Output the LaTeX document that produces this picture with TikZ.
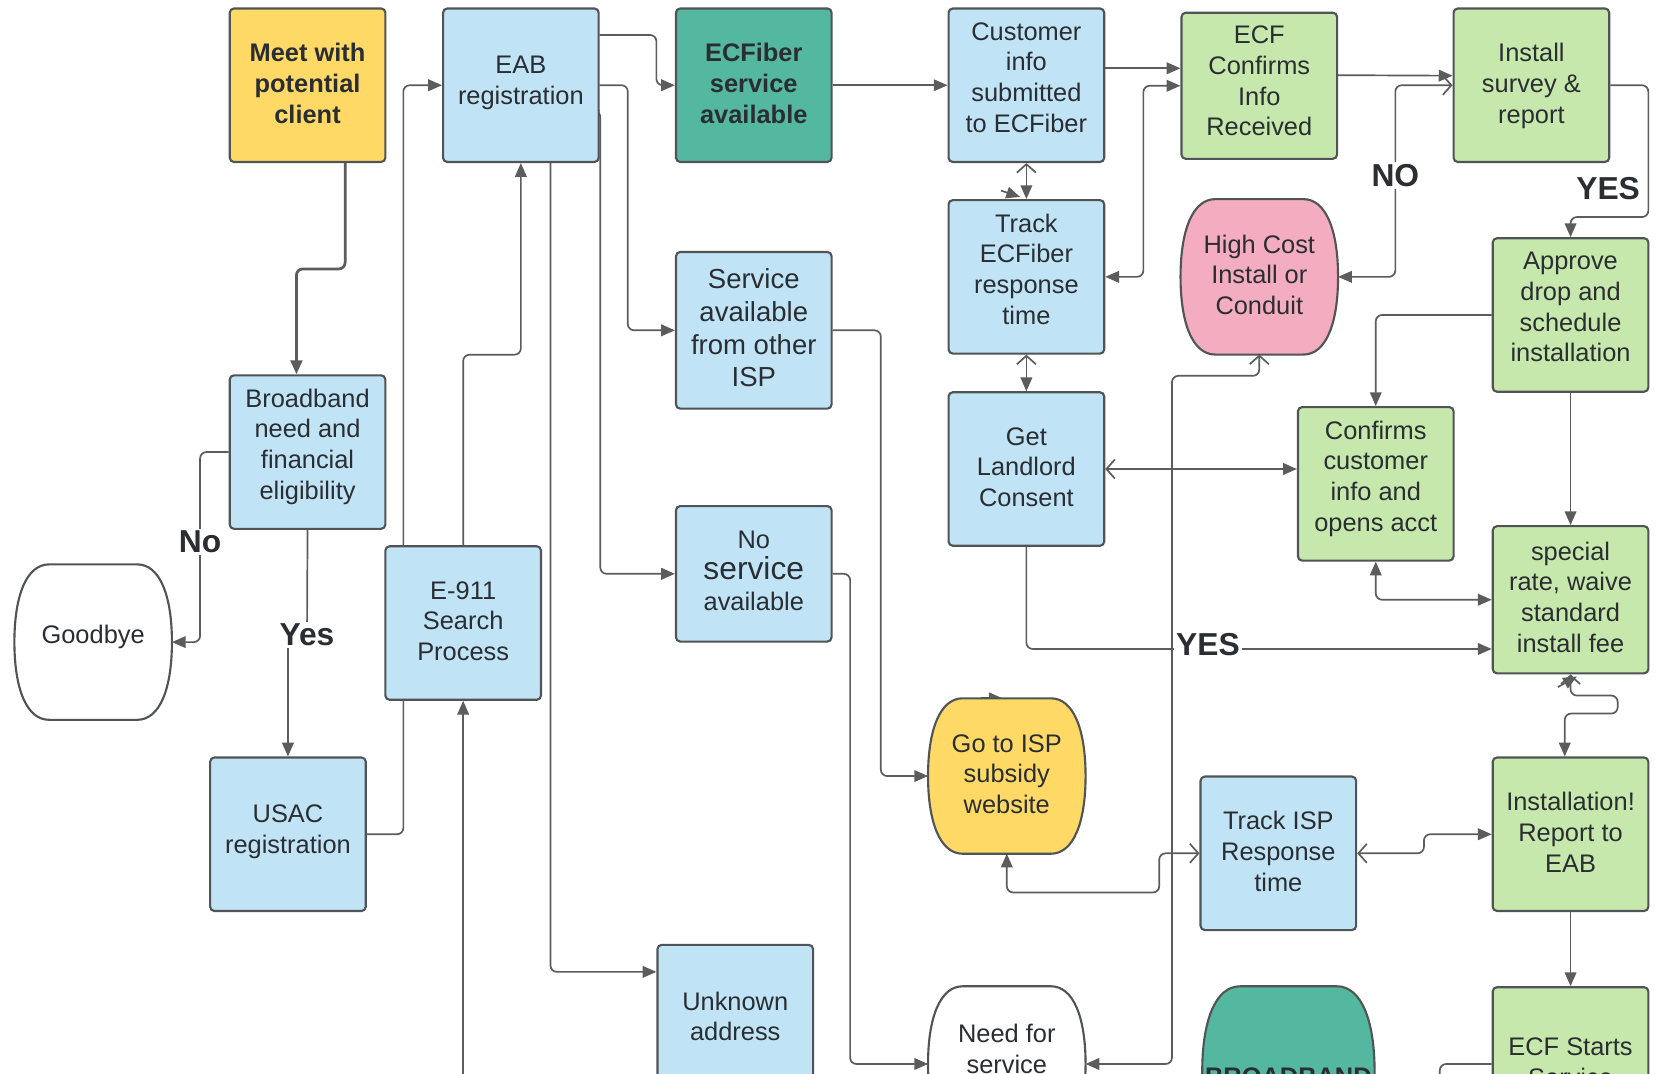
\documentclass[tikz,border=0pt]{standalone}
\usepackage{fontspec}
\setmainfont{Liberation Sans}
\usetikzlibrary{arrows.meta,calc}
\definecolor{bluef}{RGB}{192,228,246}
\definecolor{greenf}{RGB}{199,232,172}
\definecolor{tealf}{RGB}{84,183,160}
\definecolor{yellowf}{RGB}{255,217,102}
\definecolor{pinkf}{RGB}{243,172,192}
\definecolor{bord}{RGB}{80,84,86}
\definecolor{lnc}{RGB}{92,92,92}
\definecolor{txt}{RGB}{42,46,50}
\pgfdeclarelayer{bg}
\pgfdeclarelayer{edges}
\pgfdeclarelayer{shapes}
\pgfsetlayers{bg,edges,shapes,main}
\newcommand\barrel[2]{%
\path[draw=bord, line width=1pt, fill=#2] let \p1=(#1.north west), \p2=(#1.south east), \n1={0.22*(\x2-\x1)}, \n2={\y2-\y1} in
 (\x1+\n1,\y1) -- (\x2-\n1,\y1)
 .. controls (\x2-0.35*\n1,\y1) and (\x2,\y1+0.2*\n2) .. (\x2,\y1+0.5*\n2)
 .. controls (\x2,\y1+0.8*\n2) and (\x2-0.35*\n1,\y2) .. (\x2-\n1,\y2)
 -- (\x1+\n1,\y2)
 .. controls (\x1+0.35*\n1,\y2) and (\x1,\y1+0.8*\n2) .. (\x1,\y1+0.5*\n2)
 .. controls (\x1,\y1+0.2*\n2) and (\x1+0.35*\n1,\y1) .. cycle;}
\tikzset{
 fa/.tip={Triangle[length=6.5pt,width=5.5pt]},
 oa/.tip={Straight Barb[length=4pt,width=9pt]},
 box/.style={rectangle, rounded corners=2pt, draw=bord, line width=1pt, align=center, inner sep=1pt, text=txt, font=\fontsize{12}{14.5}\selectfont, minimum width=73.5pt, minimum height=72.5pt, text depth=7.5pt},
 bluebox/.style={box, fill=bluef},
 greenbox/.style={box, fill=greenf},
 bnode/.style={align=center, inner sep=1pt, text=txt, font=\fontsize{12}{14.5}\selectfont, minimum width=74pt, minimum height=73pt, text depth=7.5pt},
 tthree/.style={text depth=2pt},
 ttwo/.style={text depth=5pt},
 conn/.style={draw=lnc, line width=0.8pt, rounded corners=3pt},
 lbl/.style={font=\bfseries\fontsize{15}{15}\selectfont, text=txt, fill=white, inner sep=1pt},
}
\begin{document}
\begin{tikzpicture}[x=0.5pt,y=-0.5pt]
\useasboundingbox (0,0) rectangle (1568,1014);
\clip (0,0) rectangle (1568,1014);
\begin{pgfonlayer}{bg}
\fill[white] (0,0) rectangle (1568,1014);
\end{pgfonlayer}
% nodes
\node[box, tthree, fill=yellowf, font=\bfseries\fontsize{12}{14.5}\selectfont] (meet) at (290.5,80.5) {Meet with\\potential\\client};
\node[bluebox, ttwo] (eab) at (492,80.5) {EAB\\registration};
\node[box, tthree, fill=tealf, font=\bfseries\fontsize{12}{14.5}\selectfont] (ecf) at (712,80.5) {ECFiber\\service\\available};
\node[bluebox] (cust) at (969.5,80.5) {Customer\\info\\submitted\\to ECFiber};
\node[greenbox, minimum height=69pt, text depth=4.5pt] (conf) at (1189.5,81) {ECF\\Confirms\\Info\\Received};
\node[greenbox, tthree] (survey) at (1446.5,80.5) {Install\\survey \&\\report};
\node[bluebox] (track) at (969.5,261.5) {Track\\ECFiber\\response\\time};
\node[bnode, tthree] (high) at (1189.5,261.5) {High Cost\\Install or\\Conduit};
\node[greenbox] (approve) at (1483.5,297.5) {Approve\\drop and\\schedule\\installation};
\node[bluebox, minimum height=74pt, text depth=2.5pt, font=\fontsize{13}{15.5}\selectfont] (other) at (712,312) {Service\\available\\from other\\ISP};
\node[bluebox] (bb) at (290.5,427) {Broadband\\need and\\financial\\eligibility};
\node[bluebox, tthree] (landlord) at (969.5,443) {Get\\Landlord\\Consent};
\node[greenbox] (opens) at (1299.5,457) {Confirms\\customer\\info and\\opens acct};
\node[bluebox, minimum height=64pt, text depth=3pt] (noserv) at (712,542) {No\\{\fontsize{15}{15}\selectfont service}\\available};
\node[greenbox, minimum height=69.5pt, text depth=2.5pt] (special) at (1483.5,566.5) {special\\rate, waive\\standard\\install fee};
\node[bluebox, tthree] (e911) at (437.5,588.5) {E-911\\Search\\Process};
\node[bnode] (goodbye) at (88,606.5) {Goodbye};
\node[bnode, tthree] (goisp) at (951,733) {Go to ISP\\subsidy\\website};
\node[bluebox, ttwo] (usac) at (272,788) {USAC\\registration};
\node[bluebox, tthree] (trackisp) at (1207.5,806) {Track ISP\\Response\\time};
\node[greenbox, tthree] (install) at (1483.5,788) {Installation!\\Report to\\EAB};
\node[bluebox, ttwo] (unknown) at (694.5,965) {Unknown\\address};
\node[bnode, text depth=14.5pt] (need) at (951,1005) {Need for\\service};
\node[bnode, minimum width=81pt, minimum height=80pt, text height=13pt, text depth=0pt, font=\bfseries\fontsize{12}{14.5}\selectfont] (broad) at (1217,1012) {BROADBAND};
\node[greenbox, text depth=1.5pt] (starts) at (1483.5,1005) {ECF Starts\\Service};
% labels
\node[lbl] (lno) at (189,512) {No};
\node[lbl] (lyes) at (290,600) {Yes};
\node[lbl] (lNO) at (1318,166) {NO};
\node[lbl] (lYES) at (1519,178) {YES};
\node[lbl] (lYES2) at (1141,609) {YES};
\coordinate (fbot) at (437.5,1100);
\coordinate (sbot) at (1360,1100);
\begin{pgfonlayer}{shapes}
\barrel{high}{pinkf}
\barrel{goodbye}{white}
\barrel{goisp}{yellowf}
\barrel{need}{white}
\barrel{broad}{tealf}
\end{pgfonlayer}
\begin{pgfonlayer}{edges}
\draw[conn, line width=1.3pt, -fa] ([xshift=17.75pt]meet.south) -- ++(0,100) -| ([xshift=-5.25pt]bb.north);
\draw[conn, -fa] (bb.west) -- (189,427) -- (189,606.5) -- (goodbye.east);
\draw[conn, -fa] (bb.south) -- (290,600) -- (272,600) -- (usac.north);
\draw[conn, -fa] (usac.east) -- (381,788) -- (381,80.5) -- (eab.west);
\draw[conn, -fa] (e911.north) -- (437.5,335) -- (492,335) -- (eab.south);
\draw[conn, -fa] (fbot) -- (e911.south);
\draw[conn, -fa] ([xshift=14pt]eab.south) -- (520,918) -- ([yshift=23.5pt]unknown.west);
\draw[conn, -fa] ([yshift=23.75pt]eab.east) -- (620,33) -- (620,80.5) -- (ecf.west);
\draw[conn, -fa] (eab.east) -- (593,80.5) -- (593,312) -- (other.west);
\draw[conn, -fa] ([yshift=-12pt]eab.east) -- (567,104.5) -- (567,542) -- (noserv.west);
\draw[conn, -fa] (ecf.east) -- (cust.west);
\draw[conn, -fa] ([yshift=8pt]cust.east) -- ([yshift=8.25pt]conf.west);
\draw[conn, fa-fa] (conf.west) -- (1080,81) -- (1080,261.5) -- (track.east);
\draw[conn, -fa] ([yshift=5pt]conf.east) -- ([yshift=4.5pt]survey.west);
\draw[conn, oa-fa] (survey.west) -- (1318,80.5) -- (1318,261.5) -- (high.east);
\draw[conn, -fa] (survey.east) -- (1557,80.5) -- (1557,205) -- (1483.5,205) -- (approve.north);
\draw[conn, -fa] (approve.west) -- (1299.5,297.5) -- (opens.north);
\draw[conn, -fa] (approve.south) -- (special.north);
\draw[conn, oa-fa] (cust.south) -- (track.north);
\draw[conn, -fa] ([xshift=-12pt,yshift=4pt]track.north) -- ([xshift=-3pt,yshift=1pt]track.north);
\draw[conn, oa-fa] (track.south) -- (landlord.north);
\draw[conn, oa-fa] (landlord.east) -- ([yshift=7pt]opens.west);
\draw[conn, -fa] (landlord.south) -- (969.5,613) -- ([yshift=-23.25pt]special.west);
\draw[conn, fa-fa] (opens.south) -- (1299.5,566.5) -- (special.west);
\draw[conn, oa-fa] (special.south) -- (1483.5,657) -- (1528,657) -- (1528,674) -- (1478,674) -- ([xshift=-2.75pt]install.north);
\draw[conn, -fa] ([xshift=-6pt,yshift=-6pt]special.south) -- ([xshift=3pt,yshift=-1pt]special.south);
\draw[conn, -fa] (install.south) -- (starts.north);
\draw[conn, oa-fa] (trackisp.east) -- (1345,806) -- (1345,788) -- (install.west);
\draw[conn, fa-oa] (goisp.south) -- (951,843) -- (1095,843) -- (1095,806) -- (trackisp.west);
\draw[conn, -fa] (other.east) -- (832,312) -- (832,733) -- (goisp.west);
\draw[conn, -fa] (noserv.east) -- (803,542) -- (803,1005) -- (need.west);
\draw[conn, oa-fa] (high.south) -- (1189.5,355) -- (1107,355) -- (1107,1005) -- (need.east);
\draw[conn, -fa] ([xshift=-12pt]goisp.north) -- ([xshift=-2pt]goisp.north);
\draw[conn] (starts.west) -- (1360,1005) -- (sbot);
\end{pgfonlayer}
\end{tikzpicture}
\end{document}
